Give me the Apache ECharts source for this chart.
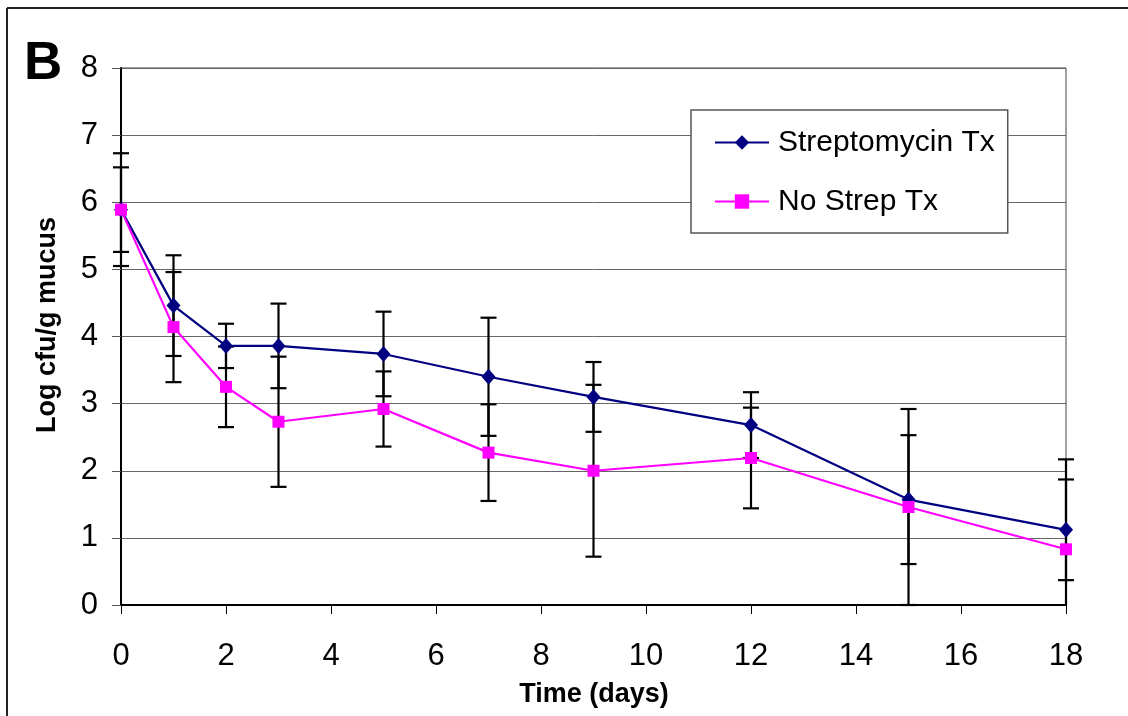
<!DOCTYPE html>
<html>
<head>
<meta charset="utf-8">
<script src="https://cdn.jsdelivr.net/npm/echarts@6/dist/echarts.min.js"></script>
<style>html,body{margin:0;padding:0;background:#fff}#c{width:1128px;height:716px}</style>
</head>
<body>
<div id="c"></div>
<script>
const days = [0, 1, 2, 3, 5, 7, 9, 12, 15, 18];
const strep = [5.89, 4.46, 3.86, 3.86, 3.74, 3.40, 3.10, 2.68, 1.57, 1.12];
const strepErr = [0.84, 0.75, 0.33, 0.63, 0.63, 0.88, 0.52, 0.49, 0.96, 0.75];
const noStrep = [5.89, 4.14, 3.25, 2.73, 2.92, 2.27, 2.00, 2.19, 1.46, 0.83];
const noStrepErr = [0.63, 0.82, 0.60, 0.97, 0.56, 0.72, 1.28, 0.75, 1.46, 1.34];
const seriesNames = ['Streptomycin Tx', 'No Strep Tx'];

const FONT = '"Liberation Sans", Arial, sans-serif';
const Y_MIN = 0, Y_MAX = 8;

const errData = [];
days.forEach((d, i) => {
  errData.push([d, strep[i] - strepErr[i], strep[i] + strepErr[i]]);
  errData.push([d, noStrep[i] - noStrepErr[i], noStrep[i] + noStrepErr[i]]);
});

function renderErr(params, api) {
  const x = api.value(0), lo = api.value(1), hi = api.value(2);
  const top = api.coord([x, Math.min(hi, Y_MAX)]);
  const bot = api.coord([x, Math.max(lo, Y_MIN)]);
  const half = 8;
  const st = { stroke: '#000', lineWidth: 2.2 };
  const children = [
    { type: 'line', shape: { x1: top[0], y1: top[1], x2: bot[0], y2: bot[1] }, style: st }
  ];
  if (hi <= Y_MAX) children.push({ type: 'line', shape: { x1: top[0] - half, y1: top[1], x2: top[0] + half, y2: top[1] }, style: st });
  if (lo >= Y_MIN) children.push({ type: 'line', shape: { x1: bot[0] - half, y1: bot[1], x2: bot[0] + half, y2: bot[1] }, style: st });
  return { type: 'group', children };
}

const chart = echarts.init(document.getElementById('c'), null, { renderer: 'canvas' });
chart.setOption({
  animation: false,
  backgroundColor: '#fff',
  grid: { left: 121, right: 62, top: 68, bottom: 111, show: true, borderColor: '#444', borderWidth: 1, containLabel: false },
  legend: {
    data: seriesNames,
    orient: 'vertical',
    left: 691, top: 110,
    padding: [14, 13, 13, 23],
    itemGap: 22,
    itemWidth: 54, itemHeight: 18,
    borderColor: '#555', borderWidth: 1.5,
    backgroundColor: '#fff',
    textStyle: { fontFamily: FONT, fontSize: 30, color: '#000', lineHeight: 37, padding: [0, 0, 0, 4] }
  },
  xAxis: {
    type: 'value', min: 0, max: 18, interval: 2,
    axisLine: { show: true, lineStyle: { color: '#000', width: 2 } },
    axisTick: { show: true, inside: false, length: 9, lineStyle: { color: '#000', width: 1 } },
    axisLabel: { fontFamily: FONT, fontSize: 31, color: '#000', margin: 36 },
    splitLine: { show: false }
  },
  yAxis: {
    type: 'value', min: Y_MIN, max: Y_MAX, interval: 1,
    axisLine: { show: true, lineStyle: { color: '#000', width: 2 } },
    axisTick: { show: true, inside: false, length: 9, lineStyle: { color: '#555', width: 1 } },
    axisLabel: { fontFamily: FONT, fontSize: 31, color: '#000', margin: 23 },
    splitLine: { show: true, lineStyle: { color: '#666', width: 1 } }
  },
  graphic: [
    { type: 'line', shape: { x1: 7, y1: 8, x2: 1128, y2: 8 }, style: { stroke: '#222', lineWidth: 2 } },
    { type: 'line', shape: { x1: 7, y1: 8, x2: 7, y2: 716 }, style: { stroke: '#222', lineWidth: 2 } },
    { type: 'text', x: 24, y: 64, style: { text: 'B', fontFamily: FONT, fontSize: 53, fontWeight: 'bold', fill: '#000', verticalAlign: 'middle' } },
    { type: 'text', x: 594, y: 695, style: { text: 'Time (days)', fontFamily: FONT, fontSize: 27, fontWeight: 'bold', fill: '#000', align: 'center', verticalAlign: 'middle' } },
    { type: 'text', x: 48, y: 325, rotation: Math.PI / 2, style: { text: 'Log cfu/g mucus', fontFamily: FONT, fontSize: 27, fontWeight: 'bold', fill: '#000', align: 'center', verticalAlign: 'middle' } }
  ],
  series: [
    {
      type: 'custom', name: 'err', renderItem: renderErr, data: errData, z: 1, silent: true,
      encode: { x: 0, y: [1, 2] }
    },
    {
      name: seriesNames[0], type: 'line', z: 3,
      data: days.map((d, i) => [d, strep[i]]),
      symbol: 'diamond', symbolSize: [14, 16],
      lineStyle: { color: '#000080', width: 2.2 },
      itemStyle: { color: '#000080' }
    },
    {
      name: seriesNames[1], type: 'line', z: 4,
      data: days.map((d, i) => [d, noStrep[i]]),
      symbol: 'rect', symbolSize: 12,
      lineStyle: { color: '#FF00FF', width: 2.2 },
      itemStyle: { color: '#FF00FF' }
    }
  ]
});
</script>
</body>
</html>
